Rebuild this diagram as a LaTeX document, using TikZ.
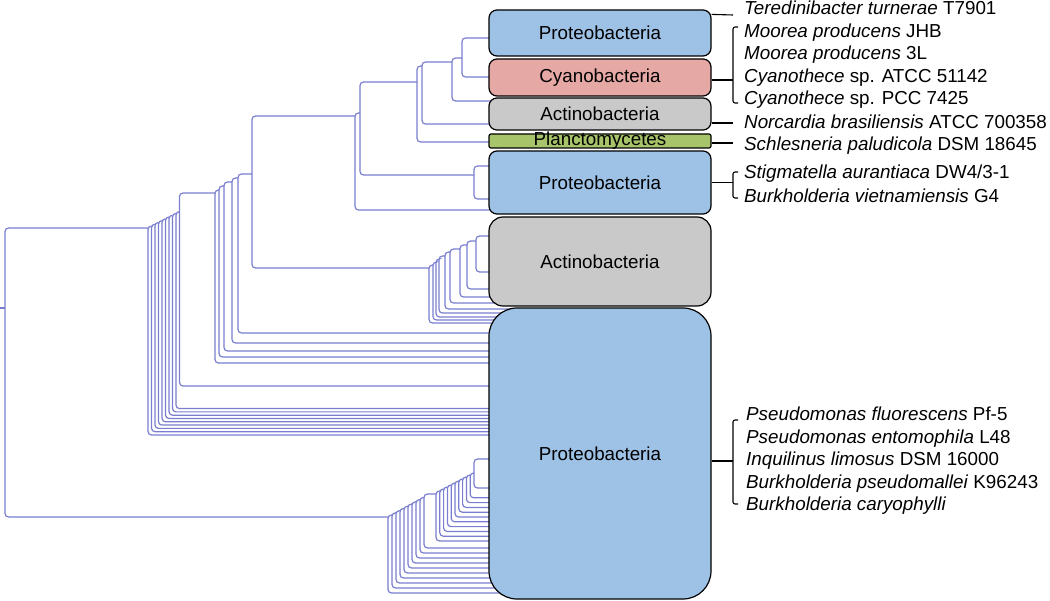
\documentclass[tikz,border=0pt]{standalone}
\usepackage{fontspec}
\setmainfont{Liberation Sans}
\definecolor{treecol}{RGB}{122,126,206}
\definecolor{proteo}{RGB}{158,194,230}
\definecolor{cyano}{RGB}{229,168,164}
\definecolor{actino}{RGB}{201,201,201}
\definecolor{plancto}{RGB}{168,196,106}
\newcommand\lblf{\fontsize{18.8}{22}\selectfont}
\begin{document}
\begin{tikzpicture}[x=1pt,y=-1pt,
  tree/.style={draw=treecol, line width=1.2pt, rounded corners=3.5pt},
  box/.style={draw=black, line width=1.2pt, rounded corners=8pt, minimum width=222pt, inner sep=0pt, font=\lblf},
  brk/.style={draw=black, line width=1.1pt, rounded corners=2pt},
  lab/.style={anchor=base west, inner sep=0pt, font=\lblf}]
\useasboundingbox (0,0) rectangle (1050,601);
% ---------------- tree ----------------
% root
\draw[tree] (148,228) -- (5,228) -- (5,517) -- (388,517);
\draw[tree] (0,308) -- (5,308);
% fan A
\foreach \i in {0,...,8}{
  \pgfmathsetmacro\xa{148+3.5*\i}
  \pgfmathsetmacro\xb{148+3.5*(\i+1)}
  \pgfmathsetmacro\tp{226-1.8*\i}
  \pgfmathsetmacro\lf{435-3.3*\i}
  \draw[tree] (520,\lf) -- (\xa,\lf) -- (\xa,\tp) -- (\xb,\tp);
}
\draw[tree] (520,386) -- (179.5,386) -- (179.5,193) -- (215,193);
% fan B
\foreach \xa/\tp/\lf/\xb in {215/190/363/219, 219/186/357/224, 224/182/351/232, 232/178/343/238, 238/174/333/252}{
  \draw[tree] (520,\lf) -- (\xa,\lf) -- (\xa,\tp) -- (\xb,\tp);
}
% node C
\draw[tree] (355,116) -- (252,116) -- (252,268) -- (429,268);
% Actinobacteria fan
\foreach \xa/\tp/\lf/\xb in {429/265/323/433, 433/262/320/436, 436/259/317/439, 439/256/313/445, 445/252/309/450, 450/249/303/460, 460/245/297/467, 467/241/289/476}{
  \draw[tree] (520,\lf) -- (\xa,\lf) -- (\xa,\tp) -- (\xb,\tp);
}
\draw[tree] (520,272) -- (476,272) -- (476,236) -- (520,236);
% upper clade
\draw[tree] (520,210) -- (355,210) -- (355,113) -- (360,113);
\draw[tree] (474,175) -- (360,175) -- (360,82) -- (417,82);
\draw[tree] (520,166) -- (474,166) -- (474,199) -- (520,199);
\draw[tree] (520,142) -- (417,142) -- (417,66) -- (422,66);
\draw[tree] (520,124) -- (422,124) -- (422,62) -- (452,62);
\draw[tree] (520,101) -- (452,101) -- (452,58) -- (462,58);
\draw[tree] (520,38) -- (462,38) -- (462,77) -- (520,77);
% lower clade fan L1
\foreach \i in {0,...,8}{
  \pgfmathsetmacro\xa{388+4*\i}
  \pgfmathsetmacro\xb{388+4*(\i+1)}
  \pgfmathsetmacro\tp{515-2.2*\i}
  \pgfmathsetmacro\lf{593-5*\i}
  \draw[tree] (520,\lf) -- (\xa,\lf) -- (\xa,\tp) -- (\xb,\tp);
}
\draw[tree] (520,548) -- (424,548) -- (424,494) -- (436,494);
% fan L2
\foreach \i in {0,...,9}{
  \pgfmathsetmacro\xa{436+3.8*\i}
  \pgfmathsetmacro\xb{436+3.8*(\i+1)}
  \pgfmathsetmacro\tp{491-2*\i}
  \pgfmathsetmacro\lf{541-4.8*\i}
  \draw[tree] (520,\lf) -- (\xa,\lf) -- (\xa,\tp) -- (\xb,\tp);
}
\draw[tree] (520,459) -- (474,459) -- (474,488) -- (520,488);
% ---------------- boxes ----------------
\node[box, fill=proteo, minimum height=46pt] (p1) at (600,33) {Proteobacteria};
\node[box, fill=cyano, minimum height=37pt] (cy) at (600,77.5) {Cyanobacteria};
\node[box, fill=actino, minimum height=32pt] (a1) at (600,114) {Actinobacteria};
\node[box, fill=plancto, minimum height=14pt, rounded corners=2pt] (pl) at (600,141) {};
\node[font=\lblf, inner sep=0pt] (pltext) at (pl) {Planctomycetes};
\node[box, fill=proteo, minimum height=63pt] (p2) at (600,182.5) {Proteobacteria};
\node[box, fill=actino, minimum height=89pt, rounded corners=14pt] (a2) at (600,261.5) {Actinobacteria};
\node[box, fill=proteo, minimum height=291pt, rounded corners=28pt] (p3) at (600,453.5) {Proteobacteria};
% ---------------- right connectors ----------------
\coordinate (tr) at (733,15);
\draw[brk] ([yshift=-5pt]p1.north east) -- (tr);
\coordinate (b1) at (733,80);
\draw[brk] (cy.east |- b1) -- (b1);
\draw[brk] (738,27) -- (733,27) -- (733,103) -- (738,103);
\coordinate (nc) at (733,123);
\draw[brk] (a1.east |- nc) -- (nc);
\coordinate (sc) at (733,143);
\draw[brk] (pl.east |- sc) -- (sc);
\coordinate (b2) at (733,182.5);
\draw[brk] (p2.east) -- (b2);
\draw[brk] (738,172) -- (733,172) -- (733,198) -- (738,198);
\coordinate (b3) at (733,461);
\draw[brk] (p3.east |- b3) -- (b3);
\draw[brk] (738,420) -- (733,420) -- (733,504) -- (738,504);
% ---------------- labels ----------------
\node[lab] (l1) at (744,15) {\textit{Teredinibacter turnerae} T7901};
\node[lab] (l2) at (744,38) {\textit{Moorea producens} JHB};
\node[lab] (l3) at (744,60) {\textit{Moorea producens} 3L};
\node[lab] (l4) at (744,83) {\textit{Cyanothece} sp. ATCC 51142};
\node[lab] (l5) at (744,105) {\textit{Cyanothece} sp. PCC 7425};
\node[lab] (l6) at (744,129) {\textit{Norcardia brasiliensis} ATCC 700358};
\node[lab] (l7) at (744,151) {\textit{Schlesneria paludicola} DSM 18645};
\node[lab] (l8) at (744,179) {\textit{Stigmatella aurantiaca} DW4/3-1};
\node[lab] (l9) at (744,203) {\textit{Burkholderia vietnamiensis} G4};
\node[lab] (m1) at (746,421) {\textit{Pseudomonas fluorescens} Pf-5};
\node[lab] (m2) at (746,443.5) {\textit{Pseudomonas entomophila} L48};
\node[lab] (m3) at (746,466) {\textit{Inquilinus limosus} DSM 16000};
\node[lab] (m4) at (746,488.5) {\textit{Burkholderia pseudomallei} K96243};
\node[lab] (m5) at (746,511) {\textit{Burkholderia caryophylli}};
\end{tikzpicture}
\end{document}
